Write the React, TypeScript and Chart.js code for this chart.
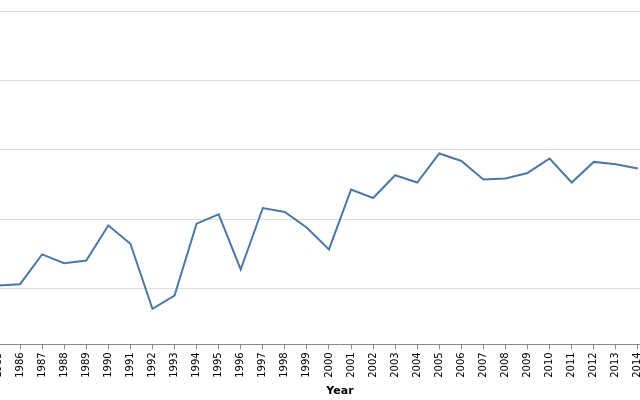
import React, { useEffect, useRef } from "react";
import { Chart, registerables } from "chart.js";

Chart.register(...registerables);

const years: string[] = [
  "1985", "1986", "1987", "1988", "1989", "1990", "1991", "1992", "1993", "1994",
  "1995", "1996", "1997", "1998", "1999", "2000", "2001", "2002", "2003", "2004",
  "2005", "2006", "2007", "2008", "2009", "2010", "2011", "2012", "2013", "2014",
  "2015", "2016",
];

const values: (number | null)[] = [
  10.48, 10.66, 14.95, 13.69, 14.08, 19.13, 16.49, 7.11, 9.03, 19.38,
  20.72, 12.78, 21.63, 21.05, 18.8, 15.67, 24.29, 23.07, 26.35, 25.3,
  29.48, 28.41, 25.73, 25.87, 26.68, 28.76, 25.3, 28.27, 27.94, 27.32,
  null, null,
];

const yGridValues: number[] = [10, 20, 30, 40, 50];
const yMin = 2;
const yMax = 50;

export default function App() {
  const ref = useRef<HTMLCanvasElement | null>(null);

  useEffect(() => {
    if (!ref.current) return;
    const chart = new Chart(ref.current, {
      type: "line",
      data: {
        labels: years,
        datasets: [
          {
            data: values,
            borderColor: "#4c78a8",
            borderWidth: 2,
            pointRadius: 0,
            tension: 0,
            fill: false,
            spanGaps: false,
          },
        ],
      },
      options: {
        animation: false,
        responsive: false,
        maintainAspectRatio: false,
        layout: { padding: { left: 38, right: 38, top: 11, bottom: 2 } },
        plugins: { legend: { display: false }, tooltip: { enabled: false } },
        scales: {
          x: {
            type: "category",
            offset: false,
            grid: {
              drawOnChartArea: false,
              drawTicks: true,
              tickLength: 5,
              color: "#888",
            },
            border: { display: true, color: "#888", width: 1 },
            ticks: {
              autoSkip: false,
              minRotation: 90,
              maxRotation: 90,
              padding: 3,
              color: "#000",
              font: { family: "'DejaVu Sans', sans-serif", size: 10 },
            },
            title: {
              display: true,
              text: "Year",
              color: "#000",
              font: { family: "'DejaVu Sans', sans-serif", size: 11, weight: "bold" },
              padding: { top: 4, bottom: 0 },
            },
          },
          y: {
            type: "linear",
            min: yMin,
            max: yMax,
            afterBuildTicks: (scale: any) => {
              scale.ticks = yGridValues.map((v) => ({ value: v }));
            },
            ticks: { display: false },
            grid: { color: "#ddd", drawTicks: false, lineWidth: 1 },
            border: { display: false },
          },
        },
      },
    });
    return () => chart.destroy();
  }, []);

  return (
    <div style={{ position: "absolute", left: -40, top: 0, width: 760, height: 400 }}>
      <canvas ref={ref} width={760} height={400} style={{ display: "block" }} />
    </div>
  );
}
